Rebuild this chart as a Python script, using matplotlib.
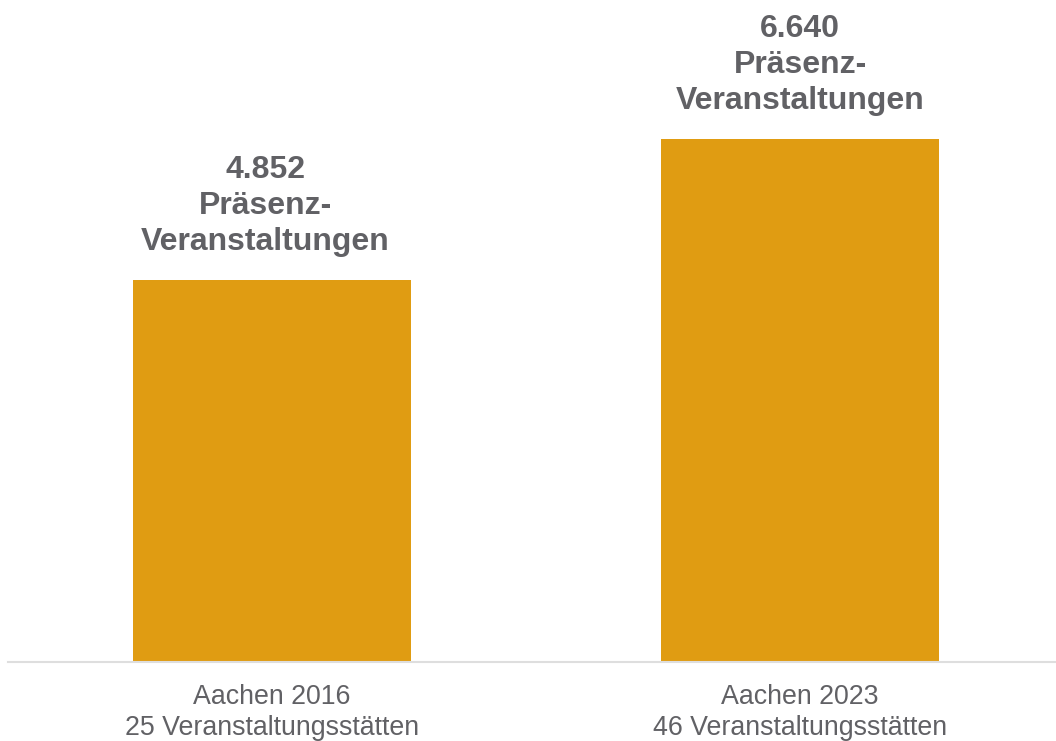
import matplotlib
matplotlib.use("Agg")
import matplotlib.pyplot as plt

# data
categories = ["Aachen 2016\n25 Veranstaltungsstätten",
              "Aachen 2023\n46 Veranstaltungsstätten"]
events = [4852, 6640]
value_labels = ["4.852\nPräsenz-\nVeranstaltungen",
                "6.640\nPräsenz-\nVeranstaltungen"]

bar_color = "#E09C12"
text_color = "#616165"

plt.rcParams["font.family"] = ["Liberation Sans", "DejaVu Sans"]

fig = plt.figure(figsize=(10.56, 7.41), dpi=100)
ax = fig.add_axes([8 / 1056, 79 / 741, 1.0, 662 / 741])

x = range(len(events))
bars = ax.bar(x, events, width=0.526, color=bar_color)

# value labels above the bars (first one sits a bit left in the original)
label_dx = [-5, 0]
for b, txt, dx in zip(bars, value_labels, label_dx):
    ax.annotate(txt, (b.get_x() + b.get_width() / 2, b.get_height()),
                xytext=(dx, 16), textcoords="offset points",
                ha="center", va="bottom", fontsize=23, fontweight="bold",
                color=text_color, linespacing=1.27)

ax.set_xlim(-0.5, 1.5)
ax.set_ylim(0, 8400)
ax.set_xticks(list(x))
ax.set_xticklabels(categories, fontsize=19.3, color=text_color, linespacing=1.22)
ax.tick_params(axis="x", length=0, pad=16)
ax.set_yticks([])

for s in ["top", "right", "left"]:
    ax.spines[s].set_visible(False)
ax.spines["bottom"].set_color("#dedede")
ax.spines["bottom"].set_linewidth(1.5)

fig.savefig("out.png", dpi=100)
